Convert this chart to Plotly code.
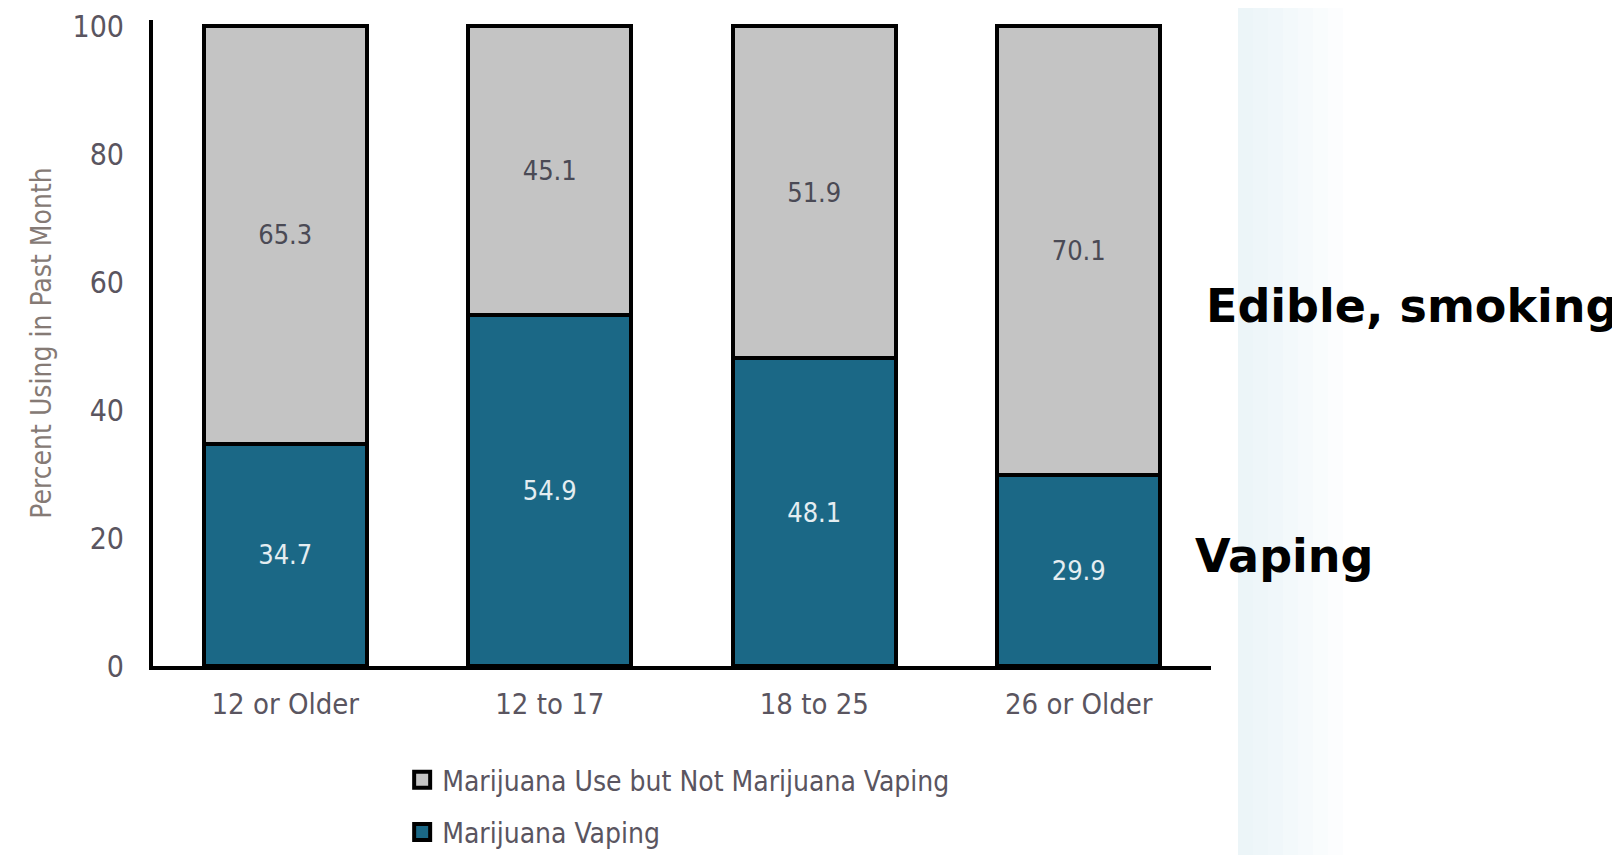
import plotly.graph_objects as go

categories = ["12 or Older", "12 to 17", "18 to 25", "26 or Older"]
vaping = [34.7, 54.9, 48.1, 29.9]
not_vaping = [65.3, 45.1, 51.9, 70.1]
y_ticks = [0, 20, 40, 60, 80, 100]

NARROW = "Liberation Sans Narrow, Arial Narrow, DejaVu Sans Condensed, sans-serif"
TEAL = "#1b6886"
GRAY = "#c4c4c4"

fig = go.Figure()
fig.add_trace(go.Bar(
    x=categories, y=vaping, name="Marijuana Vaping",
    marker=dict(color=TEAL, line=dict(color="black", width=4)),
    width=0.615,
    text=[f"{v:.1f}" for v in vaping], textposition="inside",
    insidetextanchor="middle",
    textfont=dict(family=NARROW, size=27, color="#e4edf1"),
    showlegend=False,
))
fig.add_trace(go.Bar(
    x=categories, y=not_vaping, name="Marijuana Use but Not Marijuana Vaping",
    marker=dict(color=GRAY, line=dict(color="black", width=4)),
    width=0.615,
    text=[f"{v:.1f}" for v in not_vaping], textposition="inside",
    insidetextanchor="middle",
    textfont=dict(family=NARROW, size=27, color="#4a4a55"),
    showlegend=False,
))
# legend entries (square swatches with thick black outline)
for nm, col, rank in [("Marijuana Use but Not Marijuana Vaping", GRAY, 1),
                      ("Marijuana Vaping", TEAL, 2)]:
    fig.add_trace(go.Scatter(
        x=[None], y=[None], mode="markers", name=nm,
        marker=dict(symbol="square", size=16, color=col,
                    line=dict(color="black", width=4)),
        legendrank=rank, legendgroup=nm, showlegend=True,
    ))

# light gradient band on the right (slide background)
grad = ["#ecf5f8", "#eef6f9", "#f0f7fa", "#f3f9fb", "#f6fafc", "#f9fcfd", "#fcfdfe"]
x0px = 1238
step = 15
PLOT_H = 646.0
BASE = 658.0
shapes = []
for i, c in enumerate(grad):
    xa = (x0px + i * step - 153) / 1058
    xb = (x0px + (i + 1) * step - 153) / 1058
    shapes.append(dict(type="rect", xref="paper", yref="paper",
                       x0=xa, x1=xb, y0=-0.32, y1=1.05,
                       fillcolor=c, line=dict(width=0), layer="below"))


def py(fig_y):
    """figure pixel y -> paper fraction"""
    return (BASE - fig_y) / PLOT_H


# the page body adds an 8px offset, so the figure is 8px smaller in each direction
fig.update_layout(
    barmode="stack",
    width=1612, height=847,
    margin=dict(l=145, r=409, t=12, b=189, autoexpand=False),
    paper_bgcolor="white", plot_bgcolor="white",
    showlegend=True,
    legend=dict(
        x=0.2355, y=py(747), xanchor="left", yanchor="top",
        traceorder="grouped", tracegroupgap=13,
        font=dict(family=NARROW, size=28, color="#5a5560"),
        bgcolor="rgba(0,0,0,0)",
    ),
    shapes=shapes,
    annotations=[
        dict(text="<b>Edible, smoking</b>", xref="paper", yref="paper",
             x=(1204 - 153) / 1058, y=py(297.5), xanchor="left", yanchor="middle",
             showarrow=False, font=dict(family="DejaVu Sans", size=46, color="black")),
        dict(text="<b>Vaping</b>", xref="paper", yref="paper",
             x=(1193 - 153) / 1058, y=py(547.5), xanchor="left", yanchor="middle",
             showarrow=False, font=dict(family="DejaVu Sans", size=46, color="black")),
    ],
)
fig.update_xaxes(
    range=[-0.5, 3.5], showline=True, linecolor="black", linewidth=4,
    ticks="", ticklabelstandoff=9, automargin=False,
    tickfont=dict(family=NARROW, size=29, color="#5a5560"),
    showgrid=False, zeroline=False,
)
fig.update_yaxes(
    range=[0, 100.94], tickvals=y_ticks, showline=True, linecolor="black", linewidth=4,
    ticks="", ticklabelstandoff=19, automargin=False, ticklabeloverflow="allow",
    tickfont=dict(family=NARROW, size=30, color="#5a5560"),
    title=dict(text="Percent Using in Past Month", standoff=14,
               font=dict(family=NARROW, size=28, color="#857a75")),
    showgrid=False, zeroline=False,
)
fig.write_html("out.html")
